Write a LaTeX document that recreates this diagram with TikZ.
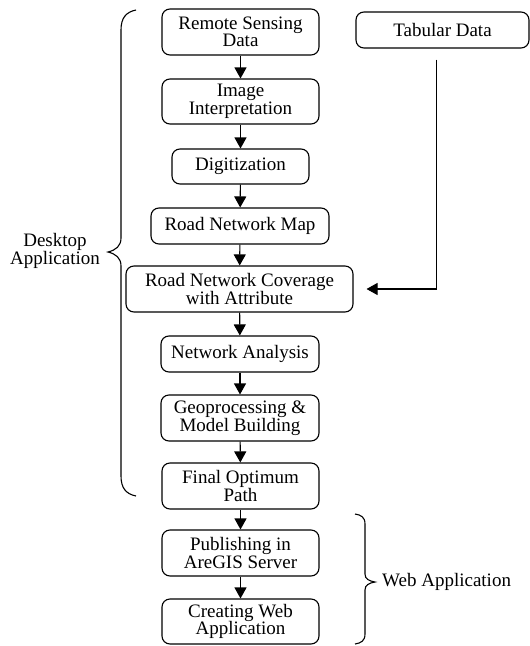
\documentclass[tikz,border=0pt]{standalone}
\usepackage{fontspec}
\setmainfont{Liberation Serif}
\usetikzlibrary{arrows.meta}
\begin{document}
\begin{tikzpicture}[x=1pt,y=-1pt,
 txt/.style={font=\fontsize{19}{17.5}\selectfont},
 box/.style={txt, draw, rounded corners=8pt, line width=1.1pt, align=center, inner sep=0pt},
 arr/.style={line width=1.1pt, -{Triangle[length=11pt,width=12pt]}},
 lbl/.style={txt, align=center, inner sep=0pt},
 brc/.style={line width=1.1pt}]
\useasboundingbox (0,0) rectangle (530,646);
\node[box, minimum width=157pt, minimum height=46pt] (rsd) at (240.5,32) {Remote Sensing\\Data};
\node[box, minimum width=157pt, minimum height=45pt] (ii) at (240.5,101.5) {Image\\Interpretation};
\node[box, minimum width=137pt, minimum height=35pt] (dig) at (240.5,166.5) {Digitization};
\node[box, minimum width=178pt, minimum height=36pt] (rnm) at (240,226) {Road Network Map};
\node[box, minimum width=227pt, minimum height=46pt] (cov) at (239.5,289) {Road Network Coverage\\with Attribute};
\node[box, minimum width=158pt, minimum height=36pt] (na) at (240,354) {Network Analysis};
\node[box, minimum width=158pt, minimum height=46pt] (geo) at (240,418) {Geoprocessing \&\\Model Building};
\node[box, minimum width=157pt, minimum height=46pt] (fin) at (240.5,486) {Final Optimum\\Path};
\node[box, minimum width=157pt, minimum height=46pt] (pub) at (240.5,553) {Publishing in\\AreGIS Server};
\node[box, minimum width=157pt, minimum height=45pt] (web) at (240.5,621.5) {Creating Web\\Application};
\node[box, minimum width=173pt, minimum height=36pt] (tab) at (442.5,30) {Tabular Data};
\node[lbl] (desk) at (55,251) {Desktop\\Application};
\node[lbl, anchor=west] (webapp) at (382,582) {Web Application};
\draw[arr] (rsd) -- (ii);
\draw[arr] (ii) -- (dig);
\draw[arr] (dig) -- (rnm);
\draw[arr] (rnm) -- (cov);
\draw[arr] (cov) -- (na);
\draw[arr] (na) -- (geo);
\draw[arr] (geo) -- (fin);
\draw[arr] (fin) -- (pub);
\draw[arr] (pub) -- (web);
\draw[arr] ([xshift=-6pt,yshift=-11pt]tab.south) |- ([xshift=13pt]cov.east);
\draw[brc] (136,10) .. controls (126,12) and (121,18) .. (121,30) -- (121,238)
  .. controls (121,246) and (116,250) .. (108,252)
  .. controls (116,254) and (121,258) .. (121,266) -- (121,476)
  .. controls (121,488) and (126,494) .. (136,496);
\draw[brc] (355,514) .. controls (361,515) and (365,517) .. (365,524) -- (365,574)
  .. controls (365,579) and (369,581) .. (375,582)
  .. controls (369,583) and (365,585) .. (365,590) -- (365,634)
  .. controls (365,641) and (361,643) .. (355,644);
\end{tikzpicture}
\end{document}
